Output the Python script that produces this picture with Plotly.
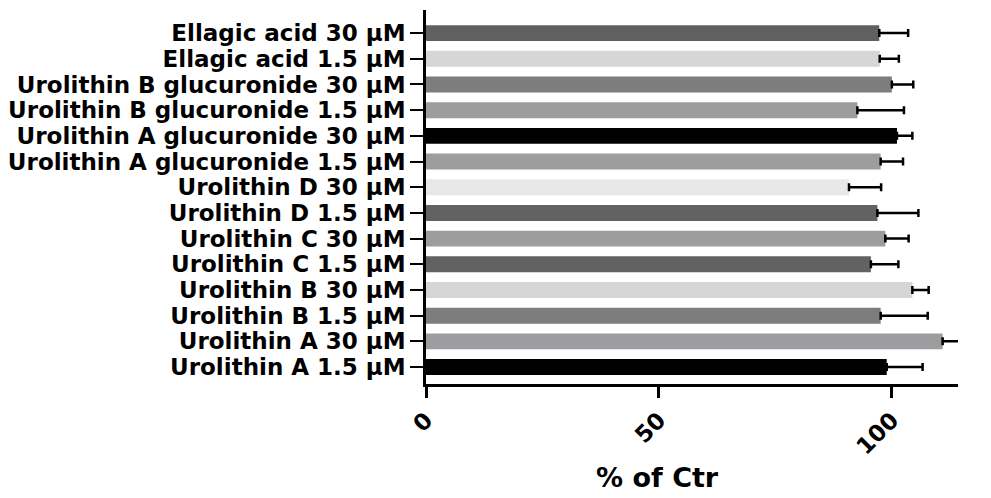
import plotly.graph_objects as go

categories = [
    "Urolithin A 1.5 µM", "Urolithin A 30 µM",
    "Urolithin B 1.5 µM", "Urolithin B 30 µM",
    "Urolithin C 1.5 µM", "Urolithin C 30 µM",
    "Urolithin D 1.5 µM", "Urolithin D 30 µM",
    "Urolithin A glucuronide 1.5 µM", "Urolithin A glucuronide 30 µM",
    "Urolithin B glucuronide 1.5 µM", "Urolithin B glucuronide 30 µM",
    "Ellagic acid 1.5 µM", "Ellagic acid 30 µM",
]
values = [98.9, 110.9, 97.6, 104.4, 95.5, 98.6, 96.9, 90.8, 97.6, 101.1, 92.6, 100.0, 97.4, 97.3]
errors = [7.7, 6.7, 10.1, 3.5, 5.9, 5.0, 8.8, 6.9, 4.8, 3.3, 10.0, 4.6, 4.1, 6.2]
colors = ["#000000", "#9d9da0", "#7d7d7d", "#d6d6d6", "#626262", "#9d9da0",
          "#626262", "#e8e8e8", "#9d9da0", "#000000", "#9d9da0", "#7d7d7d",
          "#d6d6d6", "#606060"]
x_ticks = [0, 50, 100]
x_title = "% of Ctr"

fig = go.Figure(go.Bar(
    x=values, y=categories, orientation="h",
    marker=dict(color=colors, line=dict(width=0)),
    width=0.62,
    error_x=dict(type="data", array=errors, arrayminus=[0] * len(errors),
                 symmetric=False, color="black", thickness=2.5, width=4),
))

font = dict(family="DejaVu Sans, Liberation Sans, sans-serif", color="black")
fig.update_layout(
    width=983, height=490,
    margin=dict(l=418, r=33, t=2, b=114),
    plot_bgcolor="white", paper_bgcolor="white",
    showlegend=False,
    xaxis=dict(
        range=[0, 114.2], tickmode="array", tickvals=x_ticks, ticks="outside",
        ticklen=11, tickwidth=2.5, tickcolor="black", tickangle=-45,
        tickfont=dict(size=23, weight="bold", **font),
        showline=True, linecolor="black", linewidth=2.5, showgrid=False,
        zeroline=False,
    ),
    yaxis=dict(
        categoryorder="array", categoryarray=categories,
        tickmode="array", tickvals=categories,
        range=[-0.66, 13.9], ticks="outside", ticklen=13, tickwidth=2,
        tickcolor="black", tickfont=dict(size=23, weight="bold", **font),
        showline=True, linecolor="black", linewidth=2.5, showgrid=False,
        zeroline=False, automargin=False,
    ),
    annotations=[dict(
        text=x_title, xref="paper", yref="paper", x=0.436, y=-0.25,
        xanchor="center", yanchor="middle", showarrow=False,
        font=dict(size=27, weight="bold", **font),
    )],
)
fig.write_html("out.html")
